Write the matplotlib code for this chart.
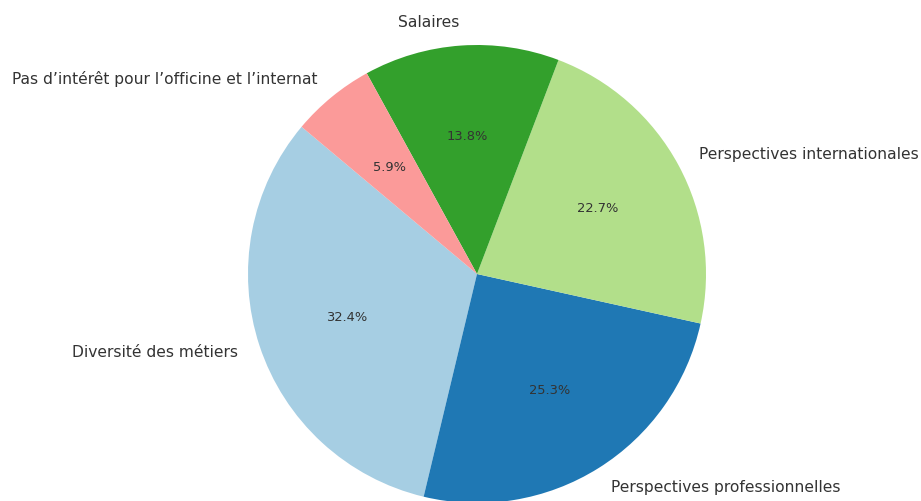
import matplotlib.pyplot as plt

labels = ["Diversité des métiers", "Perspectives professionnelles",
          "Perspectives internationales", "Salaires",
          "Pas d\u2019intérêt pour l\u2019officine et l\u2019internat"]
shares = [32.4, 25.3, 22.7, 13.8, 5.9]

colors = plt.get_cmap("Paired").colors[:len(shares)]

fig = plt.figure(figsize=(9.21, 5.01), dpi=100)
# pie centre ~ (477, 274) px, radius ~229 px
r_px = 229
w = 2.5 * r_px
ax = fig.add_axes([(477 - w / 2) / 921, (227 - w / 2) / 501, w / 921, w / 501])
wedges, texts, autotexts = ax.pie(shares, labels=labels, colors=colors,
                                  autopct="%1.1f%%", startangle=140,
                                  labeldistance=1.1,
                                  textprops={"color": "#333333"})
for t in texts:
    t.set_fontsize(11.2)
for t in autotexts:
    t.set_fontsize(9.4)
ax.set_aspect("equal")
ax.set_xlim(-1.25, 1.25)
ax.set_ylim(-1.25, 1.25)

plt.savefig("out.png", dpi=100)
